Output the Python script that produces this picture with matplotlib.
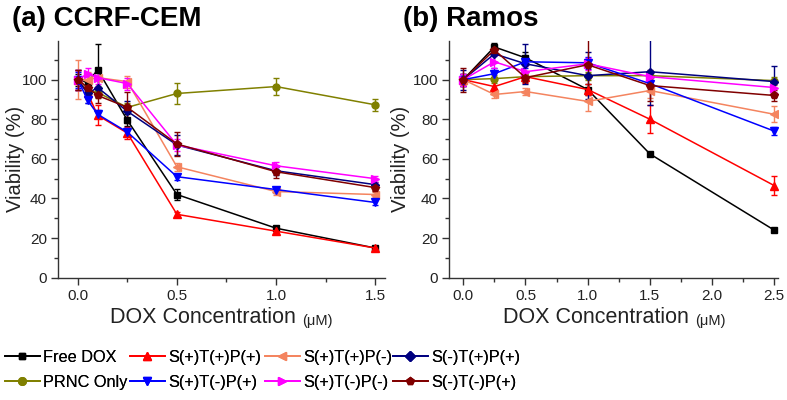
import matplotlib
matplotlib.use("Agg")
import matplotlib.pyplot as plt
from matplotlib.lines import Line2D
from matplotlib.ticker import MultipleLocator
from matplotlib import font_manager

plt.rcParams['font.family'] = ['Liberation Sans', 'DejaVu Sans']

# choose a condensed font for the legend if present
try:
    font_manager.findfont(font_manager.FontProperties(family='Liberation Sans Narrow'),
                          fallback_to_default=False)
    LEG_FAMILY, LEG_SIZE = ['Liberation Sans Narrow', 'DejaVu Sans'], 14
except Exception:
    LEG_FAMILY, LEG_SIZE = ['Liberation Sans', 'DejaVu Sans'], 11.7

# ---------------- data ----------------
labels = ["Free DOX", "PRNC Only", "S(+)T(+)P(+)", "S(+)T(+)P(-)",
          "S(-)T(+)P(+)", "S(+)T(-)P(+)", "S(+)T(-)P(-)", "S(-)T(-)P(+)"]
colors = ["#000000", "#808000", "#FF0000", "#F4845F",
          "#000080", "#0000FF", "#FF00FF", "#800000"]
markers = ["s", "o", "^", "<", "D", "v", ">", "p"]

# panel (a) CCRF-CEM
x_a = [0.0, 0.05, 0.1, 0.25, 0.5, 1.0, 1.5]
free_dox_a = [100, 98.5, 105, 79.5, 42, 25, 15]
prnc_a = [100, 94, 93.5, 86, 93, 96.5, 87.3]
s_t_p_pp_a = [100, 93, 82, 73, 32, 23.5, 15]
s_t_p_pm_a = [100, 100, 101, 99, 56, 43.5, 42]
sm_t_p_a = [100, 93, 96, 84, 67, 54, 47]
s_tm_p_a = [100, 89.5, 82.5, 73.5, 51, 44.5, 38]
s_tm_pm_a = [100, 103, 101, 98, 67, 56.5, 50]
sm_tm_p_a = [100, 96, 92, 86, 67.5, 53.5, 45.5]
err_free_dox_a = [3, 4, 13, 3, 3, 1, 1]
err_prnc_a = [5, 3, 3, 2, 5.5, 4.5, 3]
err_s_t_p_pp_a = [5, 3, 5, 3, 1, 1, 1]
err_s_t_p_pm_a = [10, 4, 4, 3, 2, 1.5, 1.5]
err_sm_t_p_a = [5, 5, 5, 5, 5, 2, 1.5]
err_s_tm_p_a = [4, 1.5, 2, 2, 1.5, 1.5, 1.5]
err_s_tm_pm_a = [5, 3, 3, 3, 3, 2, 1.5]
err_sm_tm_p_a = [5, 4, 4, 8, 6, 3, 1.5]

# panel (b) Ramos
x_b = [0.0, 0.25, 0.5, 1.0, 1.5, 2.5]
free_dox_b = [100, 116.5, 111, 95, 62.5, 24]
prnc_b = [100, 100.5, 101.5, 102, 102, 99.5]
s_t_p_pp_b = [100, 96.5, 101.5, 95, 80, 46.5]
s_t_p_pm_b = [100, 92.5, 94, 89, 94.5, 82.5]
sm_t_p_b = [100, 113, 108, 102, 104, 99]
s_tm_p_b = [100, 103, 109, 108.5, 98, 74]
s_tm_pm_b = [100, 109, 104, 108, 101.5, 96]
sm_tm_p_b = [100, 115, 101, 107.5, 97, 92]
err_free_dox_b = [3, 2, 3, 3, 1, 1]
err_prnc_b = [2, 2, 2, 2, 2, 2]
err_s_t_p_pp_b = [3, 3, 3, 3, 7, 5]
err_s_t_p_pm_b = [3, 2, 2, 5, 4, 4]
err_sm_t_p_b = [5, 4, 10, 12, 17, 8]
err_s_tm_p_b = [3, 3, 3, 3, 3, 2]
err_s_tm_pm_b = [3, 3, 3, 3, 3, 2]
err_sm_tm_p_b = [6, 2, 2, 13, 8, 3]

series_a = [free_dox_a, prnc_a, s_t_p_pp_a, s_t_p_pm_a, sm_t_p_a, s_tm_p_a, s_tm_pm_a, sm_tm_p_a]
errs_a = [err_free_dox_a, err_prnc_a, err_s_t_p_pp_a, err_s_t_p_pm_a, err_sm_t_p_a,
          err_s_tm_p_a, err_s_tm_pm_a, err_sm_tm_p_a]
series_b = [free_dox_b, prnc_b, s_t_p_pp_b, s_t_p_pm_b, sm_t_p_b, s_tm_p_b, s_tm_pm_b, sm_tm_p_b]
errs_b = [err_free_dox_b, err_prnc_b, err_s_t_p_pp_b, err_s_t_p_pm_b, err_sm_t_p_b,
          err_s_tm_p_b, err_s_tm_pm_b, err_sm_tm_p_b]

# ---------------- figure ----------------
W, H = 787, 400
fig = plt.figure(figsize=(W / 100, H / 100), dpi=100)

def px_axes(left, right, top, bottom):
    return fig.add_axes([left / W, 1 - bottom / H, (right - left) / W, (bottom - top) / H])

ax_a = px_axes(58, 385, 41, 277.7)
ax_b = px_axes(449, 778, 41, 277.7)

msize = {"s": 4.5, "o": 5, "^": 5.5, "<": 5.5, "D": 4.5, "v": 5.5, ">": 5.5, "p": 5.5}

def draw(ax, x, series, errs):
    for y, e, c, m, lab in zip(series, errs, colors, markers, labels):
        ax.errorbar(x, y, yerr=e, color=c, marker=m, ms=msize[m], lw=1.1,
                    elinewidth=1.0, capsize=2.5, capthick=1.0, label=lab)

draw(ax_a, x_a, series_a, errs_a)
draw(ax_b, x_b, series_b, errs_b)

ax_a.set_xlim(-0.1, 1.55)
ax_b.set_xlim(-0.115, 2.53)
for ax, lx in [(ax_a, (25 - 58) / 327), (ax_b, (410 - 449) / 329)]:
    ax.set_ylim(0, 119.5)
    ax.xaxis.set_major_locator(MultipleLocator(0.5))
    ax.xaxis.set_minor_locator(MultipleLocator(0.25))
    ax.yaxis.set_major_locator(MultipleLocator(20))
    ax.yaxis.set_minor_locator(MultipleLocator(10))
    ax.xaxis.set_major_formatter(matplotlib.ticker.FormatStrFormatter('%.1f'))
    ax.spines['top'].set_visible(False)
    ax.spines['right'].set_visible(False)
    for s in ('left', 'bottom'):
        ax.spines[s].set_color('#333333')
        ax.spines[s].set_linewidth(1.0)
    ax.tick_params(which='major', direction='out', length=5, width=1, color='#333333',
                   labelsize=11, labelcolor='#222222', pad=3)
    ax.tick_params(which='minor', direction='out', length=3, width=1, color='#333333')
    ax.set_ylabel('Viability (%)', fontsize=14.5, color='#222222')
    ax.yaxis.set_label_coords(lx, 0.5)

# x labels with small (μM)
for x0 in (110, 503):
    t = fig.text(x0 / W, 1 - 323 / H, 'DOX Concentration ', fontsize=15.5,
                 color='#222222', ha='left', va='baseline')
    ax_a.annotate('(μM)', xy=(1, 0), xycoords=t, fontsize=10.5, color='#222222',
                  ha='left', va='bottom', annotation_clip=False)

# panel titles
fig.text(12 / W, 1 - 26 / H, '(a) CCRF-CEM', fontsize=20, fontweight='bold',
         ha='left', va='baseline')
fig.text(403 / W, 1 - 26 / H, '(b) Ramos', fontsize=20, fontweight='bold',
         ha='left', va='baseline')

# legend: four columns, two rows
order = [[0, 1], [2, 5], [3, 6], [4, 7]]
col_x = [5, 130, 265, 393]
for cx, idx in zip(col_x, order):
    handles = [Line2D([], [], color=colors[i], marker=markers[i], ms=msize[markers[i]] + 0.5,
                      lw=1.3) for i in idx]
    leg = fig.legend(handles, [labels[i] for i in idx], loc='upper left',
                     bbox_to_anchor=(cx / W, 1 - 350 / H), frameon=False,
                     prop={'family': LEG_FAMILY, 'size': LEG_SIZE},
                     handlelength=35 / LEG_SIZE / 1.39, handletextpad=0.2,
                     labelspacing=0.62, borderpad=0, borderaxespad=0)
    fig.add_artist(leg)

fig.savefig('out.png', dpi=100)
